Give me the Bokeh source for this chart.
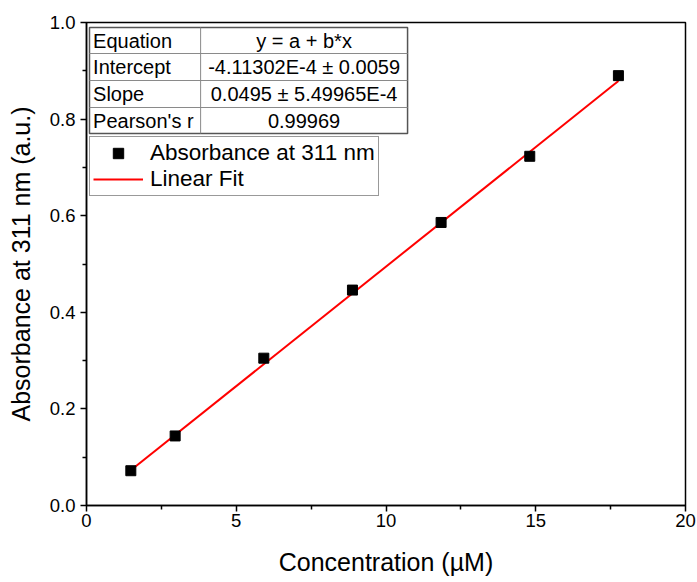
from bokeh.plotting import figure
from bokeh.models import (Range1d, FixedTicker, Legend, LegendItem)
from bokeh.core.properties import value
from bokeh.embed import file_html
from bokeh.resources import INLINE

# ---- data ----
conc = [1.48, 2.96, 5.92, 8.88, 11.84, 14.80, 17.76]
absorb = [0.072, 0.144, 0.305, 0.446, 0.586, 0.723, 0.890]
intercept = -4.11302e-4
slope = 0.0495
x_ticks = [0, 5, 10, 15, 20]
x_minor = [2.5, 7.5, 12.5, 17.5]
y_ticks = [0.0, 0.2, 0.4, 0.6, 0.8, 1.0]
y_minor = [0.1, 0.3, 0.5, 0.7, 0.9]
table_names = ["Equation", "Intercept", "Slope", "Pearson's r"]
table_values = ["y = a + b*x", "-4.11302E-4 \u00b1 0.0059", "0.0495 \u00b1 5.49965E-4", "0.99969"]

FONT = "Liberation Sans"

p = figure(width=697, height=582, output_backend="svg", toolbar_location=None,
           x_range=Range1d(0, 20), y_range=Range1d(0, 1),
           min_border_left=86, min_border_right=12, min_border_top=22, min_border_bottom=77)
p.grid.visible = False
p.outline_line_color = "black"
p.outline_line_width = 1.5

for ax, ticks, minor in ((p.xaxis[0], x_ticks, x_minor), (p.yaxis[0], y_ticks, y_minor)):
    ax.ticker = FixedTicker(ticks=ticks, minor_ticks=minor)
    ax.axis_line_width = 1.5
    ax.axis_line_color = "black"
    ax.major_tick_line_width = 1.5
    ax.minor_tick_line_width = 1.5
    ax.major_tick_in = 0
    ax.major_tick_out = 6
    ax.minor_tick_in = 0
    ax.minor_tick_out = 4
    ax.major_label_text_font = FONT
    ax.major_label_text_font_size = "18.5px"
    ax.major_label_text_color = "black"
    ax.axis_label_text_font = FONT
    ax.axis_label_text_font_size = "25px"
    ax.axis_label_text_font_style = "normal"
    ax.axis_label_text_color = "black"

p.xaxis.axis_label = "Concentration (\u00b5M)"
p.yaxis.axis_label = "Absorbance at 311 nm (a.u.)"
p.xaxis.major_label_overrides = {t: str(t) for t in x_ticks}
p.yaxis.major_label_overrides = {t: f"{t:.1f}" for t in y_ticks}
p.xaxis.major_label_standoff = 2
p.yaxis.major_label_standoff = 5
p.xaxis.axis_label_standoff = 18
p.yaxis.axis_label_standoff = 12

# fit line from fit parameters over data span
fx = [min(conc), max(conc)]
fy = [intercept + slope * v for v in fx]
ln = p.line(fx, fy, line_color="#ff0000", line_width=2)
sc = p.scatter(conc, absorb, marker="square", size=10, fill_color="black", line_color="black")

# ---- parameter table (annotation, in frame data units) ----
tl, tr, tdiv = 0.10, 10.72, 3.81
rows_y = [0.9896, 0.9358, 0.8799, 0.8240, 0.7702]
p.quad(left=[tl], right=[tr], top=[rows_y[0]], bottom=[rows_y[-1]],
       fill_color="white", line_color="#555555", line_width=1.5)
p.segment(x0=[tl] * 3, x1=[tr] * 3, y0=rows_y[1:4], y1=rows_y[1:4],
          line_color="#8a8a8a", line_width=1)
p.segment(x0=[tdiv], x1=[tdiv], y0=[rows_y[0]], y1=[rows_y[-1]],
          line_color="#8a8a8a", line_width=1)
centers = [(rows_y[i] + rows_y[i + 1]) / 2 for i in range(4)]
p.text(x=[tl + 0.12] * 4, y=centers, text=table_names, text_font=value(FONT),
       text_font_size="20px", text_baseline="middle", text_align="left", text_color="black")
p.text(x=[(tdiv + tr) / 2] * 4, y=centers, text=table_values, text_font=value(FONT),
       text_font_size="20px", text_baseline="middle", text_align="center", text_color="black")

# ---- legend ----
legend = Legend(items=[LegendItem(label="Absorbance at 311 nm", renderers=[sc]),
                       LegendItem(label="Linear Fit", renderers=[ln])],
                location=(3, 309), padding=3, spacing=0, margin=0,
                glyph_width=50, glyph_height=26, label_height=26, label_standoff=7,
                label_text_font=FONT, label_text_font_size="22.5px", label_text_color="black",
                border_line_color="#333333", border_line_width=1.5,
                background_fill_color="white", background_fill_alpha=1.0)
p.add_layout(legend)

open("out.html", "w").write(file_html(p, INLINE))
